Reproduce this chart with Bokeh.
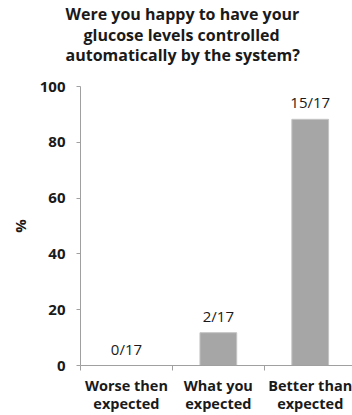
from bokeh.plotting import figure
from bokeh.models import Range1d, FixedTicker, Title, ColumnDataSource
from bokeh.core.properties import value
from bokeh.embed import file_html
from bokeh.resources import INLINE

# Survey answers: share of 17 participants per response
categories = ["Worse then\nexpected", "What you\nexpected", "Better than\nexpected"]
counts = [0, 2, 15]
total = 17
y_ticks = [0, 20, 40, 60, 80, 100]

percent = [100.0 * c / total for c in counts]
centers = [i + 0.5 for i in range(len(categories))]
labels = [f"{c}/{total}" for c in counts]

FONT = "Open Sans"
TEXT = "#1a1a1a"
AXIS = "#a0a0a0"

src = ColumnDataSource(dict(x=centers, top=percent, label=labels))

p = figure(width=352, height=415, output_backend="svg", toolbar_location=None,
           x_range=Range1d(0, 2.96), y_range=Range1d(0, 100),
           min_border_left=80, min_border_right=0, min_border_top=86,
           min_border_bottom=48)
p.outline_line_color = None
p.grid.grid_line_color = None
p.background_fill_color = "white"
p.border_fill_color = "white"

p.vbar(x="x", top="top", width=0.4, source=src,
       fill_color="#a6a6a6", line_color="#c4c4c4", line_width=1)

p.text(x="x", y="top", text="label", source=src, y_offset=-7,
       text_align="center", text_baseline="bottom",
       text_font=value(FONT), text_font_size="15px", text_color=TEXT)

# x axis: labels centred under bars, ticks on category boundaries
xa = p.xaxis[0]
xa.ticker = FixedTicker(ticks=centers, minor_ticks=list(range(len(categories) + 1)))
xa.major_label_overrides = {c: lab for c, lab in zip(centers, categories)}
xa.major_tick_line_color = None
xa.major_tick_out = 5
xa.major_tick_in = 0
xa.minor_tick_line_color = AXIS
xa.minor_tick_out = 5
xa.minor_tick_in = 0
xa.axis_line_color = AXIS
xa.major_label_standoff = 5
xa.major_label_text_font = FONT
xa.major_label_text_font_style = "bold"
xa.major_label_text_font_size = "14.5px"
xa.major_label_text_color = TEXT
xa.major_label_text_line_height = 0.95

ya = p.yaxis[0]
ya.ticker = FixedTicker(ticks=y_ticks)
ya.minor_tick_line_color = None
ya.major_tick_line_color = AXIS
ya.major_tick_out = 4
ya.major_tick_in = 0
ya.axis_line_color = AXIS
ya.major_label_standoff = 11
ya.major_label_text_font = FONT
ya.major_label_text_font_style = "bold"
ya.major_label_text_font_size = "15px"
ya.major_label_text_color = TEXT
ya.axis_label = "%"
ya.axis_label_standoff = 7
ya.axis_label_text_font = FONT
ya.axis_label_text_font_style = "bold"
ya.axis_label_text_font_size = "15px"
ya.axis_label_text_color = TEXT

# title lines, stacked upward from the plot area; the first is a spacer
title_lines = [
    (" ", 0, -1),
    ("automatically by the system?", -15, -4),
    ("glucose levels controlled", 3, -4),
    ("Were you happy to have your", -15, -2),
]
for text, off, stand in title_lines:
    p.add_layout(Title(text=text, align="left", offset=off, standoff=stand,
                       text_font=FONT, text_font_style="bold",
                       text_font_size="16px", text_color=TEXT), "above")

open("out.html", "w").write(file_html(p, INLINE))
